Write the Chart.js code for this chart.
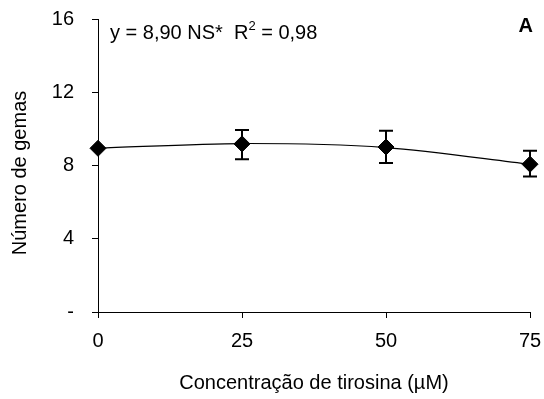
<!DOCTYPE html>
<html lang="pt">
<head>
    <meta charset="UTF-8">
    <title>Número de gemas</title>
    <style>
        body { margin: 0; background: #fff; }
        #chart { display: block; }
    </style>
    <script src="https://cdn.jsdelivr.net/npm/chart.js"></script>
</head>
<body>
    <canvas id="chart" width="544" height="399"></canvas>

    <script>
        // data
        const concentrations = [0, 25, 50, 75];
        const meanBuds = [8.94, 9.18, 9.01, 8.07];
        const errUpper = [8.94, 9.94, 9.90, 8.80];
        const errLower = [8.94, 8.34, 8.13, 7.40];
        const fitCurve = [8.95, 9.20, 8.98, 8.07];
        const xTicks = [0, 25, 50, 75];
        const yTicks = [0, 4, 8, 12, 16];

        const FONT = "'Liberation Sans', Arial, sans-serif";

        // error bars + text drawn over the chart
        const extras = {
            id: 'extras',
            afterDatasetsDraw(chart) {
                const ctx = chart.ctx;
                const xs = chart.scales.x, ys = chart.scales.y;
                ctx.save();
                ctx.strokeStyle = '#000';
                ctx.lineWidth = 2;
                concentrations.forEach((c, i) => {
                    const px = xs.getPixelForValue(c);
                    const top = ys.getPixelForValue(errUpper[i]);
                    const bot = ys.getPixelForValue(errLower[i]);
                    if (bot - top < 2) return;
                    ctx.beginPath();
                    ctx.moveTo(px, top); ctx.lineTo(px, bot);
                    ctx.moveTo(px - 7, top); ctx.lineTo(px + 7, top);
                    ctx.moveTo(px - 7, bot); ctx.lineTo(px + 7, bot);
                    ctx.stroke();
                });
                ctx.restore();
            },
            afterDraw(chart) {
                const ctx = chart.ctx;
                const area = chart.chartArea;
                ctx.save();
                ctx.fillStyle = '#000';

                // axis titles
                ctx.font = '20px ' + FONT;
                ctx.textAlign = 'center';
                ctx.textBaseline = 'alphabetic';
                ctx.fillText('Concentração de tirosina (µM)', (area.left + area.right) / 2, 389);
                ctx.save();
                ctx.translate(26, 173);
                ctx.rotate(-Math.PI / 2);
                ctx.fillText('Número de gemas', 0, 0);
                ctx.restore();

                // equation
                ctx.textAlign = 'left';
                let x = 110;
                const base = 39;
                const part1 = 'y = 8,90 NS*  R';
                ctx.fillText(part1, x, base);
                x += ctx.measureText(part1).width;
                ctx.font = '13px ' + FONT;
                ctx.fillText('2', x, base - 9);
                x += ctx.measureText('2').width;
                ctx.font = '20px ' + FONT;
                ctx.fillText(' = 0,98', x, base);

                // panel letter
                ctx.font = 'bold 20px ' + FONT;
                ctx.textAlign = 'right';
                ctx.fillText('A', 533, 32);
                ctx.restore();
            }
        };

        new Chart(document.getElementById('chart'), {
            type: 'scatter',
            data: {
                datasets: [
                    {
                        label: 'Média',
                        data: concentrations.map((c, i) => ({ x: c, y: meanBuds[i] })),
                        pointStyle: 'rectRot',
                        pointRadius: 8,
                        pointBackgroundColor: '#000',
                        pointBorderColor: '#000',
                        showLine: false,
                        clip: false,
                        order: 0
                    },
                    {
                        label: 'Ajuste',
                        data: concentrations.map((c, i) => ({ x: c, y: fitCurve[i] })),
                        showLine: true,
                        borderColor: '#000',
                        borderWidth: 1.2,
                        tension: 0.3,
                        pointRadius: 0,
                        clip: false,
                        order: 1
                    }
                ]
            },
            options: {
                responsive: false,
                animation: false,
                layout: { padding: { left: 0, right: 14, top: 19, bottom: 0 } },
                plugins: {
                    legend: { display: false },
                    tooltip: { enabled: false }
                },
                scales: {
                    x: {
                        type: 'linear',
                        min: 0,
                        max: 75,
                        afterBuildTicks: s => { s.ticks = xTicks.map(v => ({ value: v })); },
                        afterFit: s => { s.height = 87; s.paddingLeft = 0; s.paddingRight = 0; },
                        grid: { drawOnChartArea: false, color: '#000', tickLength: 6 },
                        border: { color: '#000', width: 1 },
                        ticks: { color: '#000', padding: 11, maxRotation: 0, font: { family: FONT, size: 20 } }
                    },
                    y: {
                        min: 0,
                        max: 16,
                        afterBuildTicks: s => { s.ticks = yTicks.map(v => ({ value: v })); },
                        afterFit: s => { s.width = 98; s.paddingTop = 0; s.paddingBottom = 0; },
                        grid: { drawOnChartArea: false, color: '#000', tickLength: 6 },
                        border: { color: '#000', width: 1 },
                        ticks: {
                            color: '#000',
                            padding: 18,
                            font: { family: FONT, size: 20 },
                            callback: v => v === 0 ? '-' : v
                        }
                    }
                }
            },
            plugins: [extras]
        });
    </script>
</body>
</html>
